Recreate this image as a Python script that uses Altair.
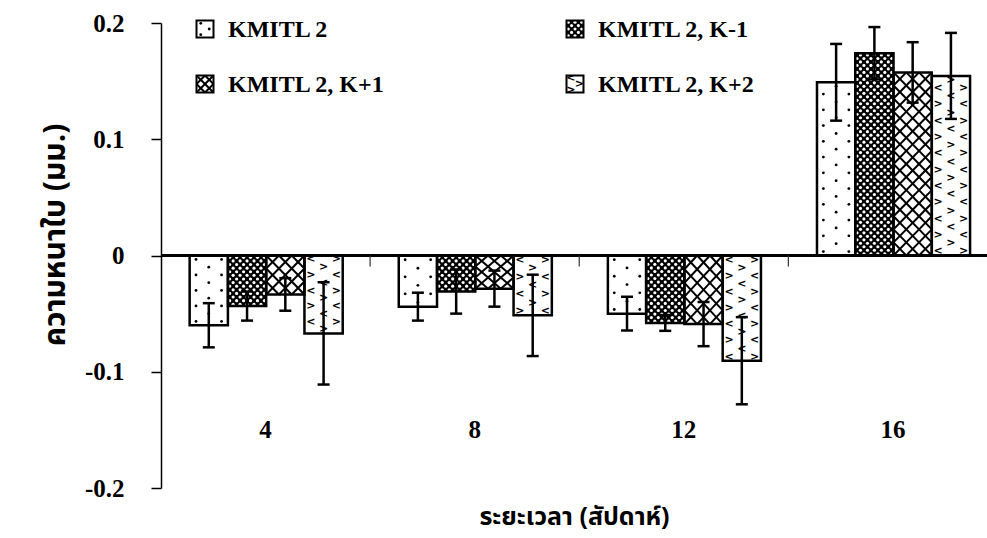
import altair as alt
import pandas as pd

# Leaf thickness change (mm) by week, four lines
weeks = ["4", "8", "12", "16"]
series = ["KMITL 2", "KMITL 2, K-1", "KMITL 2, K+1", "KMITL 2, K+2"]

kmitl2 = [-0.060, -0.044, -0.050, 0.149]
kmitl2_err = [0.019, 0.012, 0.0145, 0.033]
k_minus1 = [-0.0435, -0.031, -0.058, 0.174]
k_minus1_err = [0.0125, 0.019, 0.0068, 0.0225]
k_plus1 = [-0.0335, -0.0285, -0.059, 0.1575]
k_plus1_err = [0.014, 0.0155, 0.019, 0.026]
k_plus2 = [-0.067, -0.0515, -0.0905, 0.1545]
k_plus2_err = [0.044, 0.035, 0.0375, 0.037]

values = [kmitl2, k_minus1, k_plus1, k_plus2]
errors = [kmitl2_err, k_minus1_err, k_plus1_err, k_plus2_err]

# ---- geometry of the plot area -------------------------------------------
W, H = 826, 465
X_MAX = 3.95
Y_MIN, Y_MAX = -0.2, 0.2
KX = W / X_MAX                 # px per x unit
KY = H / (Y_MAX - Y_MIN)       # px per y unit
LEAD = 0.137                   # gap before the first bar of a group
BAR_W = 0.183                  # width of one bar (x units)
CAP = 6 / KX                   # half width of an error-bar cap

SERIF = "Liberation Serif, Times New Roman, serif"
THAI = "Noto Sans Thai, Noto Serif Thai, Loma, Garuda, Tlwg Typo, sans-serif"
BASE_FILL = ["white", "black", "white", "white"]

rows = []
for si, (vals, errs) in enumerate(zip(values, errors)):
    for wi, (v, e) in enumerate(zip(vals, errs)):
        x0 = wi + LEAD + BAR_W * si
        xc = x0 + BAR_W / 2
        rows.append(dict(week=weeks[wi], series=series[si], si=si, value=v, err=e,
                         x0=x0, x1=x0 + BAR_W, xc=xc, base=0.0,
                         lo=v - e, hi=v + e, c0=xc - CAP, c1=xc + CAP,
                         fill=BASE_FILL[si]))
bars = pd.DataFrame(rows)


# ---- hatch textures --------------------------------------------------------
def cells(x0, x1, y0, y1, cw, ch):
    nc = max(1, round(abs(x1 - x0) * KX / cw))
    nr = max(1, round(abs(y1 - y0) * KY / ch))
    for r in range(nr):
        for c in range(nc):
            yield (r, c,
                   x0 + (x1 - x0) * c / nc, x0 + (x1 - x0) * (c + 1) / nc,
                   y0 + (y1 - y0) * r / nr, y0 + (y1 - y0) * (r + 1) / nr)


def texture(si, x0, x1, y0, y1, pts, lines, glyphs, scale=1.0):
    if si == 0:      # sparse dots
        for r, c, a0, a1, b0, b1 in cells(x0, x1, y0, y1, 12.8 * scale, 8 * scale):
            if (r + c) % 2 == 0:
                pts.append(dict(x=(a0 + a1) / 2, y=(b0 + b1) / 2, col="black", sz=8))
    elif si == 1:    # fine mesh: white holes on black
        for r, c, a0, a1, b0, b1 in cells(x0, x1, y0, y1, 3.5, 3.5):
            if (r + c) % 2 == 0:
                pts.append(dict(x=(a0 + a1) / 2, y=(b0 + b1) / 2, col="white", sz=10))
    elif si == 2:    # diagonal cross-hatch
        for r, c, a0, a1, b0, b1 in cells(x0, x1, y0, y1, 12.8 * scale, 12.8 * scale):
            lines.append(dict(x=a0, y=b0, x2=a1, y2=b1))
            lines.append(dict(x=a0, y=b1, x2=a1, y2=b0))
    else:            # chevrons
        for r, c, a0, a1, b0, b1 in cells(x0, x1, y0, y1, 12.8 * scale, 8 * scale):
            if (r + c) % 2 == 0:
                g = "<" if ((r + c) // 2) % 2 == 0 else ">"
                glyphs.append(dict(x=(a0 + a1) / 2, y=(b0 + b1) / 2, g=g))


pts, lines, glyphs = [], [], []
for b in rows:
    texture(b["si"], b["x0"], b["x1"], 0.0, b["value"], pts, lines, glyphs)

# ---- legend, placed in the top-left corner of the plot ---------------------
SW = 8.5  # half side of a legend swatch, px
leg_rows = []
for si, name in enumerate(series):
    cx = (44 + 370 * (si % 2)) / KX
    cy = Y_MAX - (6 + 55 * (si // 2)) / KY
    hx, hy = SW / KX, SW / KY
    leg_rows.append(dict(series=name, fill=BASE_FILL[si],
                         x0=cx - hx, x1=cx + hx, y0=cy + hy, y1=cy - hy,
                         tx=cx + 23 / KX, ty=cy - 1 / KY))
    texture(si, cx - hx, cx + hx, cy + hy, cy - hy, pts, lines, glyphs, scale=0.7)
legend = pd.DataFrame(leg_rows)

tex_pts, tex_lines, tex_glyphs = pd.DataFrame(pts), pd.DataFrame(lines), pd.DataFrame(glyphs)

# ---- chart -----------------------------------------------------------------
xs = alt.Scale(domain=[0, X_MAX], nice=False, zero=False)
ys = alt.Scale(domain=[Y_MIN, Y_MAX], nice=False, zero=False)

x_axis = alt.Axis(title="ระยะเวลา (สัปดาห์)", domain=False, ticks=False, labels=False,
                  grid=False, titleFont=THAI, titleFontSize=25, titleFontWeight="bold",
                  titleColor="black", titleY=28, titleBaseline="middle")
y_axis = alt.Axis(title="ความหนาใบ (มม.)", values=[-0.2, -0.1, 0, 0.1, 0.2],
                  labelExpr="toString(round(datum.value * 10) / 10)",
                  grid=False, domainColor="black", domainWidth=1.5,
                  tickColor="black", tickWidth=1.5, tickSize=10,
                  labelFont=SERIF, labelFontSize=25, labelFontWeight="bold",
                  labelColor="black", labelPadding=27,
                  titleFont=THAI, titleFontSize=30, titleFontWeight="bold",
                  titleColor="black", titleAngle=270, titleX=-106, titleY=211.5,
                  titleAlign="center", titleBaseline="middle")

# all layers share these scales; the axes come from the bar layer
X = lambda f: alt.X(f, type="quantitative", scale=xs)
Y = lambda f: alt.Y(f, type="quantitative", scale=ys)

bar_fill = alt.Chart(bars).mark_rect(strokeWidth=0).encode(
    x=alt.X("x0:Q", scale=xs, axis=x_axis),
    x2="x1:Q",
    y=alt.Y("base:Q", scale=ys, axis=y_axis),
    y2="value:Q",
    color=alt.Color("fill:N", scale=None),
)

leg_fill = alt.Chart(legend).mark_rect(strokeWidth=0).encode(
    x=X("x0"), x2="x1", y=Y("y0"), y2="y1",
    color=alt.Color("fill:N", scale=None),
)

hatch_pts = alt.Chart(tex_pts).mark_circle(opacity=1).encode(
    x=X("x"), y=Y("y"),
    color=alt.Color("col:N", scale=None),
    size=alt.Size("sz:Q", scale=None),
)

hatch_lines = alt.Chart(tex_lines).mark_rule(color="black", strokeWidth=2).encode(
    x=X("x"), x2="x2", y=Y("y"), y2="y2",
)

hatch_glyphs = alt.Chart(tex_glyphs).mark_text(
    font="DejaVu Sans", fontSize=11, fontWeight="bold", color="black", baseline="middle"
).encode(x=X("x"), y=Y("y"), text="g:N")

bar_outline = alt.Chart(bars).mark_rect(filled=False, stroke="black", strokeWidth=2.5).encode(
    x=X("x0"), x2="x1", y=Y("base"), y2="value",
)
leg_outline = alt.Chart(legend).mark_rect(filled=False, stroke="black", strokeWidth=2).encode(
    x=X("x0"), x2="x1", y=Y("y0"), y2="y1",
)

zero_line = alt.Chart(bars).mark_rule(color="black", strokeWidth=1.5).encode(
    y=alt.datum(0, scale=ys)
)

boundaries = pd.DataFrame({"b": [1, 2, 3], "top": 0.0, "bot": -11 / KY})
group_ticks = alt.Chart(boundaries).mark_rule(color="#333333", strokeWidth=1.2).encode(
    x=X("b"), y=Y("top"), y2="bot",
)

err_rule = alt.Chart(bars).mark_rule(color="black", strokeWidth=2.5).encode(
    x=X("xc"), y=Y("lo"), y2="hi",
)
cap_lo = alt.Chart(bars).mark_rule(color="black", strokeWidth=2.5).encode(
    x=X("c0"), x2="c1", y=Y("lo"),
)
cap_hi = alt.Chart(bars).mark_rule(color="black", strokeWidth=2.5).encode(
    x=X("c0"), x2="c1", y=Y("hi"),
)

week_df = pd.DataFrame({"week": weeks, "wx": [i + 0.5 for i in range(len(weeks))]})
week_labels = alt.Chart(week_df).mark_text(
    font=SERIF, fontSize=25, fontWeight="bold", color="black", baseline="middle"
).encode(x=X("wx"), y=alt.value(407), text="week:N")

leg_text = alt.Chart(legend).mark_text(
    font=SERIF, fontSize=24, fontWeight="bold", color="black", align="left", baseline="middle"
).encode(x=X("tx"), y=Y("ty"), text="series:N")

chart = alt.layer(
    bar_fill, leg_fill, hatch_pts, hatch_lines, hatch_glyphs, bar_outline, leg_outline,
    zero_line, group_ticks, err_rule, cap_lo, cap_hi, week_labels, leg_text,
).properties(
    width=W, height=H,
    autosize=alt.AutoSizeParams(type="none"),
    padding={"left": 161, "top": 23, "right": 0, "bottom": 50},
    background="white",
).configure_view(strokeWidth=0)

chart.save("out.html", embed_options={"renderer": "svg", "actions": False})
